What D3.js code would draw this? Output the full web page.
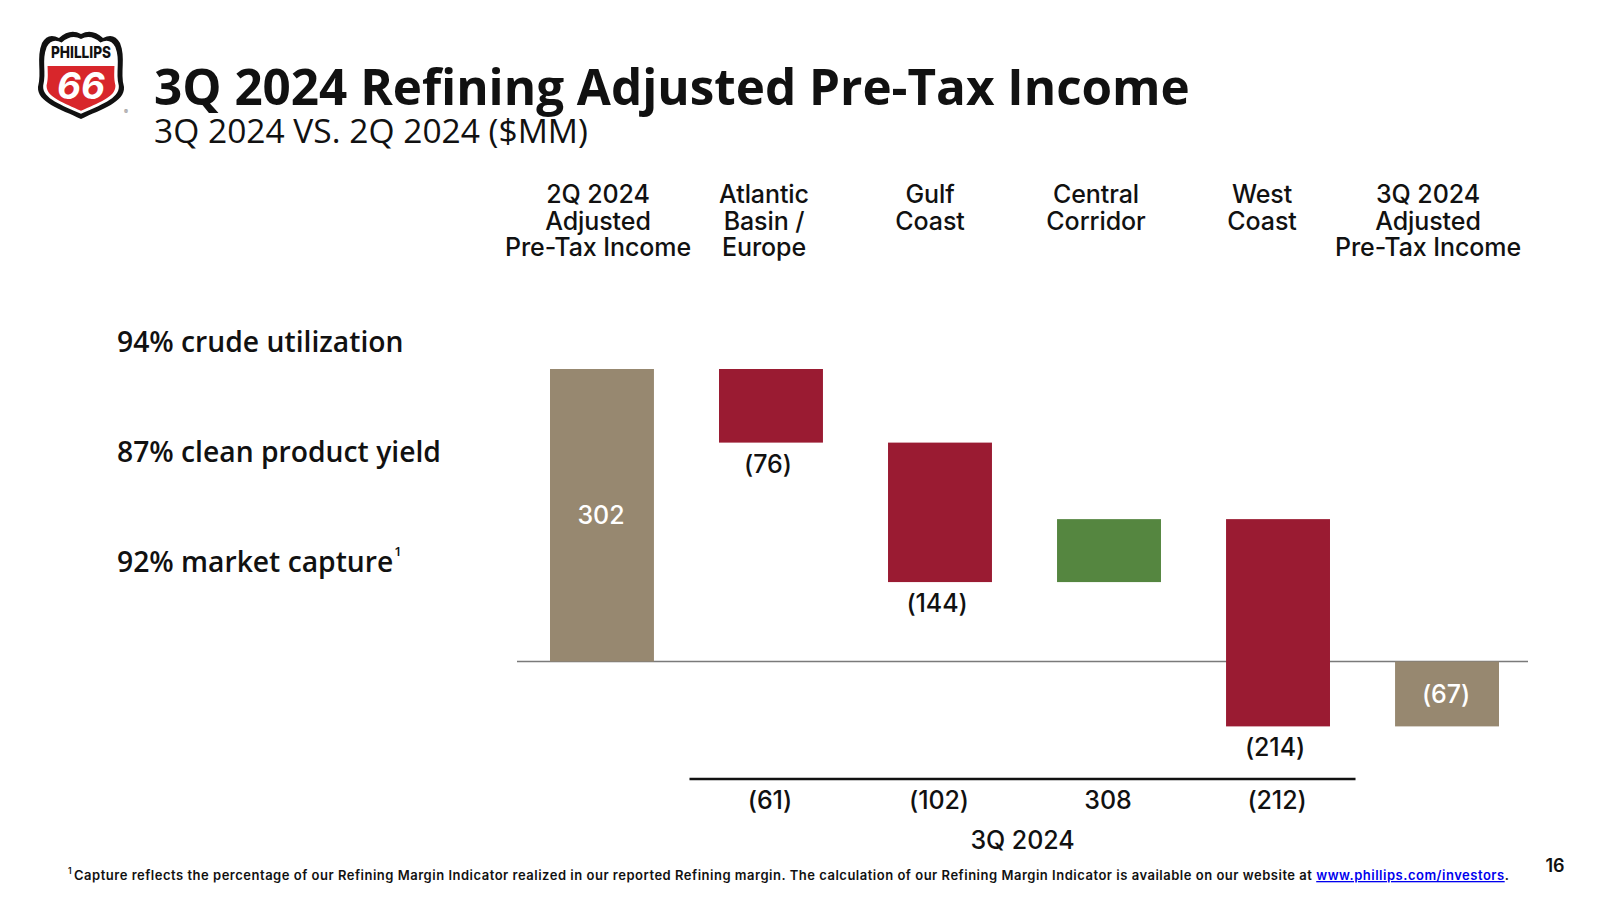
<!DOCTYPE html>
<html>
<head>
<meta charset="utf-8">
<script src="https://cdn.jsdelivr.net/npm/d3@7"></script>
<style>
  html, body { margin: 0; padding: 0; background: #fff; }
  svg { display: block; }
  text { font-family: Inter, "Open Sans", sans-serif; fill: #111; }
</style>
</head>
<body>
<svg id="chart" width="1600" height="902"></svg>
<script>
// ---------------- DATA ----------------
const categories = ["2Q Total", "Atlantic Basin / Europe", "Gulf Coast", "Central Corridor", "West Coast", "3Q Total"];
const headerLines = [
  ["2Q 2024", "Adjusted", "Pre-Tax Income"],
  ["Atlantic", "Basin /", "Europe"],
  ["Gulf", "Coast"],
  ["Central", "Corridor"],
  ["West", "Coast"],
  ["3Q 2024", "Adjusted", "Pre-Tax Income"]
];
const barValues = [302, -76, -144, 65, -214, -67];
const barKinds = ["total", "delta", "delta", "delta", "delta", "total"];
const showValue = [true, true, true, false, true, true];
const regionCategories = ["Atlantic Basin / Europe", "Gulf Coast", "Central Corridor", "West Coast"];
const q3Values = [-61, -102, 308, -212];
const q3Label = "3Q 2024";
const kpis = ["94% crude utilization", "87% clean product yield", "92% market capture"];
const title = "3Q 2024 Refining Adjusted Pre-Tax Income";
const subtitle = "3Q 2024 VS. 2Q 2024 ($MM)";
const footnote = "Capture reflects the percentage of our Refining Margin Indicator realized in our reported Refining margin.  The calculation of our Refining Margin Indicator is available on our website at ";
const footLink = "www.phillips.com/investors";
const pageNumber = "16";

// ---------------- HELPERS ----------------
const svg = d3.select("#chart");
const fmt = v => v < 0 ? "(" + Math.abs(v) + ")" : String(v);
function fitLS(sel, target) {
  const l = sel.node().getComputedTextLength();
  const n = sel.text().length;
  const ls = (target - l) / n;
  sel.attr("letter-spacing", ls.toFixed(3));
  return ls;
}
function fitSize(sel, target) {
  const fs = parseFloat(sel.attr("font-size"));
  const l = sel.node().getComputedTextLength();
  const nfs = fs * target / l;
  sel.attr("font-size", nfs.toFixed(2));
  return nfs;
}
const colors = { total: "#978870", neg: "#9a1b32", pos: "#558640" };

// ---------------- SCALES ----------------
const x = d3.scaleBand().domain(categories).range([550, 1499]).paddingInner(0.385).paddingOuter(0);
const y = d3.scaleLinear().domain([0, 302]).range([661.5, 369]);
const hx = d3.scalePoint().domain(categories).range([598, 1428]);

// waterfall running totals
let run = 0;
const bars = categories.map((c, i) => {
  const v = barValues[i];
  let y0, y1;
  if (barKinds[i] === "total") { y0 = 0; y1 = v; run = v; }
  else { y0 = run; y1 = run + v; run = y1; }
  return { c, v, y0, y1, kind: barKinds[i], show: showValue[i] };
});

// ---------------- LOGO ----------------
const logo = svg.append("g").attr("transform", "translate(40,30)");
const shieldPath = "M2,13 Q8,2 19,8 Q30,-2 41,4 Q52,-2 63,8 Q74,2 80,13 C86,28 80,42 84,57 C85,72 62,79 41,89 C20,79 -3,72 -2,57 C2,42 -4,28 2,13 Z";
logo.append("path").attr("d", shieldPath).attr("fill", "#111");
logo.append("path").attr("d", shieldPath).attr("fill", "#fff")
  .attr("transform", "translate(41,46) scale(0.88) translate(-41,-46)");
const defs = svg.append("defs");
defs.append("clipPath").attr("id", "redclip").append("rect").attr("x", -10).attr("y", 33).attr("width", 110).attr("height", 70);
logo.append("path").attr("d", shieldPath).attr("fill", "#d8262b")
  .attr("clip-path", "url(#redclip)")
  .attr("transform", "translate(41,48) scale(0.8) translate(-41,-48)");
logo.append("text").attr("x", 41).attr("y", 28).attr("text-anchor", "middle")
  .attr("font-size", 16).attr("font-weight", 800).attr("font-family", "'Liberation Sans Narrow', 'DejaVu Sans Condensed', sans-serif")
  .attr("textLength", 60).attr("lengthAdjust", "spacingAndGlyphs").text("PHILLIPS");
logo.append("text").attr("x", 41).attr("y", 69).attr("text-anchor", "middle")
  .attr("font-size", 37).attr("font-weight", 700).attr("font-style", "italic")
  .style("fill", "#fff").attr("font-family", "'Liberation Sans', Arial, sans-serif").text("66");
svg.append("text").attr("x", 126).attr("y", 114).attr("text-anchor", "middle")
  .attr("font-size", 6).style("fill", "#777").text("®");

// ---------------- TITLES ----------------
const t = svg.append("text").attr("x", 154).attr("y", 105).attr("font-size", 43)
  .attr("font-weight", 700).style("font-family", "'Open Sans', sans-serif").text(title);
fitSize(t, 1036);
const st = svg.append("text").attr("x", 154).attr("y", 143).attr("font-size", 28)
  .attr("font-weight", 400).style("font-family", "'Open Sans', sans-serif").text(subtitle);
fitSize(st, 434);

// ---------------- LEFT KPIs ----------------
const kpiY = [342, 452, 562];
const kpiTexts = kpis.map((k, i) => svg.append("text").attr("x", 117).attr("y", kpiY[i]).attr("dy", "0.36em")
  .attr("font-size", 25).attr("font-weight", 600).style("font-family", "'Open Sans', sans-serif").text(k));
const kfs = fitSize(kpiTexts[1], 324);
kpiTexts.forEach(s => s.attr("font-size", kfs.toFixed(2)));
{
  const w = kpiTexts[2].node().getComputedTextLength();
  svg.append("text").attr("x", 117 + w + 1).attr("y", kpiY[2] - 6).attr("font-size", 13)
    .attr("font-weight", 600).style("font-family", "'Open Sans', sans-serif").text("1");
}

// ---------------- HEADERS ----------------
const lineH = 26.5;
const hfs = 25;
const probe = svg.append("text").attr("font-size", hfs).attr("font-weight", 500).text("Pre-Tax Income");
const hls = fitLS(probe, 186);
probe.remove();
categories.forEach((c, i) => {
  const g = svg.append("text").attr("text-anchor", "middle").attr("font-size", hfs).attr("font-weight", 500)
    .attr("letter-spacing", hls.toFixed(3));
  headerLines[i].forEach((ln, j) => {
    g.append("tspan").attr("x", hx(c)).attr("y", 194 + j * lineH).attr("dy", "0.36em").text(ln);
  });
});
const lab = sel => sel.attr("font-size", hfs).attr("font-weight", 500).attr("letter-spacing", hls.toFixed(3));

// ---------------- BARS ----------------
svg.append("line").attr("x1", 517).attr("x2", 1528).attr("y1", y(0)).attr("y2", y(0))
  .attr("stroke", "#7a7a7a").attr("stroke-width", 1.5);

svg.selectAll("rect.bar").data(bars).join("rect").attr("class", "bar")
  .attr("x", d => x(d.c))
  .attr("width", x.bandwidth())
  .attr("y", d => y(Math.max(d.y0, d.y1)))
  .attr("height", d => Math.abs(y(d.y0) - y(d.y1)))
  .attr("fill", d => d.kind === "total" ? colors.total : (d.v < 0 ? colors.neg : colors.pos));

bars.filter(d => d.show).forEach(d => {
  const cx = x(d.c) + x.bandwidth() / 2;
  if (d.kind === "total") {
    svg.append("text").attr("x", cx - 1).attr("y", (y(d.y0) + y(d.y1)) / 2).attr("dy", "0.36em")
      .attr("text-anchor", "middle").call(lab).style("fill", "#fff").text(fmt(d.v));
  } else {
    svg.append("text").attr("x", cx - 3).attr("y", y(Math.min(d.y0, d.y1)) + 21).attr("dy", "0.36em")
      .attr("text-anchor", "middle").call(lab).text(fmt(d.v));
  }
});

// ---------------- 3Q 2024 ROW ----------------
const gapHalf = (x.step() - x.bandwidth()) / 2;
const lx1 = x(regionCategories[0]) - gapHalf + 3;
const lx2 = x(regionCategories[regionCategories.length - 1]) + x.bandwidth() + gapHalf - 7;
svg.append("line").attr("x1", lx1).attr("x2", lx2).attr("y1", 779).attr("y2", 779)
  .attr("stroke", "#111").attr("stroke-width", 2.5);
regionCategories.forEach((c, i) => {
  svg.append("text").attr("x", x(c) + x.bandwidth() / 2 - 1).attr("y", 800).attr("dy", "0.36em")
    .attr("text-anchor", "middle").call(lab).text(fmt(q3Values[i]));
});
svg.append("text").attr("x", (lx1 + lx2) / 2).attr("y", 840).attr("dy", "0.36em")
  .attr("text-anchor", "middle").call(lab).text(q3Label);

// ---------------- FOOTNOTE ----------------
svg.append("text").attr("x", 68).attr("y", 874).attr("font-size", 8.5).attr("font-weight", 600).text("1");
const fn = svg.append("text").attr("x", 74).attr("y", 880).attr("font-size", 13).attr("font-weight", 600);
fn.append("tspan").text(footnote);
fn.append("tspan").style("fill", "#0000ee").attr("text-decoration", "underline").text(footLink);
fn.append("tspan").text(".");
{
  const l = fn.node().getComputedTextLength();
  const n = (footnote + footLink + ".").length;
  fn.attr("letter-spacing", ((1436 - l) / n).toFixed(3));
}
svg.append("text").attr("x", 1555).attr("y", 866).attr("dy", "0.36em").attr("text-anchor", "middle")
  .attr("font-size", 18).attr("font-weight", 600).text(pageNumber);
</script>
</body>
</html>
